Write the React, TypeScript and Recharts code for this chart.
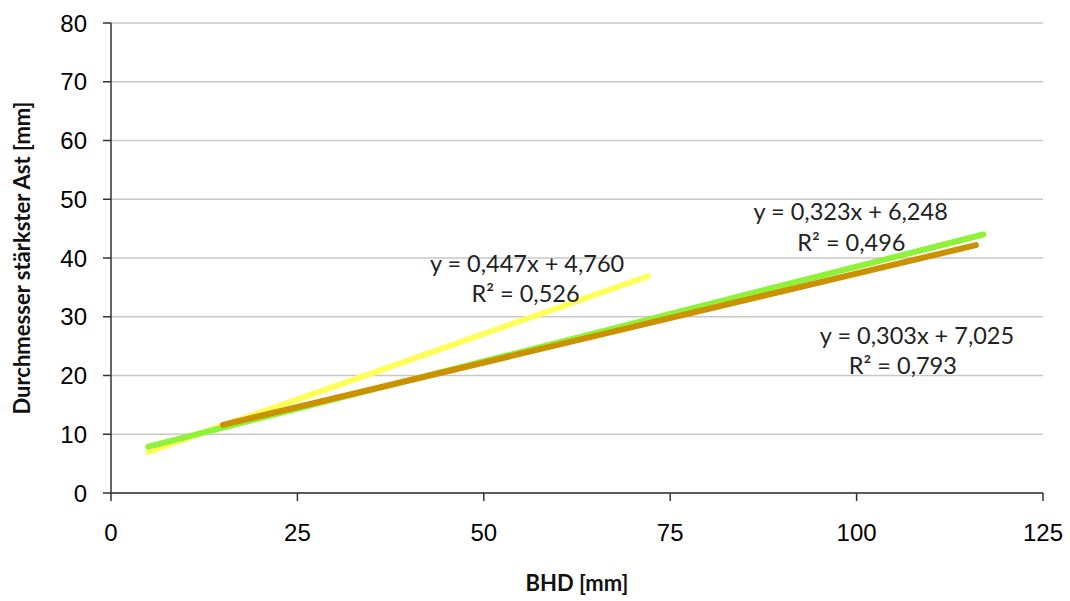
import React from "react";
import {
  LineChart,
  Line,
  XAxis,
  YAxis,
  CartesianGrid,
  Label,
  ReferenceDot,
} from "recharts";

// endpoints of the three trend lines
const yellowLine = [
  { x: 5, y: 7.0 },
  { x: 72, y: 36.9 },
];
const greenLine = [
  { x: 5, y: 7.9 },
  { x: 117, y: 44.0 },
];
const brownLine = [
  { x: 15, y: 11.6 },
  { x: 116, y: 42.2 },
];

const xTicks = [0, 25, 50, 75, 100, 125];
const yTicks = [0, 10, 20, 30, 40, 50, 60, 70, 80];

// equation labels: [x, y, text]
const annotations: [number, number, string][] = [
  [55.8, 39.1, "y = 0,447x + 4,760"],
  [55.6, 34.0, "R² = 0,526"],
  [99.2, 48.0, "y = 0,323x + 6,248"],
  [99.3, 42.7, "R² = 0,496"],
  [108.1, 26.9, "y = 0,303x + 7,025"],
  [106.2, 21.8, "R² = 0,793"],
];

const tickStyle = { fontFamily: "Liberation Sans, Arial", fontSize: 24, fill: "#000" };
const titleFont = "Lato, Open Sans, sans-serif";

const EqLabel = (props: any) => {
  const { viewBox, value } = props;
  const cx = viewBox.x + viewBox.width / 2;
  const cy = viewBox.y + viewBox.height / 2;
  return (
    <text
      x={cx}
      y={cy}
      textAnchor="middle"
      dominantBaseline="central"
      fontFamily={titleFont}
      fontSize={23.5}
      fill="#222"
    >
      {value}
    </text>
  );
};

export default function App() {
  return (
    <div style={{ position: "absolute", left: 0, top: 0, background: "#fff" }}>
      <LineChart
        width={1070}
        height={601}
        margin={{ top: 23, right: 27, left: 0, bottom: 0 }}
      >
        <CartesianGrid vertical={false} stroke="#c8c8c8" strokeWidth={1.5} />
        <XAxis
          type="number"
          dataKey="x"
          domain={[0, 125]}
          ticks={xTicks}
          tick={tickStyle}
          tickSize={8}
          tickMargin={23}
          stroke="#333"
          strokeWidth={1.5}
          height={108}
          allowDataOverflow
        >
          <Label
            value="BHD [mm]"
            position="insideBottom"
            offset={10}
            style={{ fontFamily: titleFont, fontWeight: 700, fontSize: 22, fill: "#111" }}
          />
        </XAxis>
        <YAxis
          type="number"
          domain={[0, 80]}
          ticks={yTicks}
          tick={tickStyle}
          tickSize={8}
          tickMargin={16}
          stroke="#333"
          strokeWidth={1.5}
          width={111}
          allowDataOverflow
        >
          <Label
            value="Durchmesser stärkster Ast [mm]"
            angle={-90}
            position="insideLeft"
            offset={22}
            style={{
              fontFamily: titleFont,
              fontWeight: 700,
              fontSize: 22,
              fill: "#111",
              textAnchor: "middle",
            }}
          />
        </YAxis>
        <Line
          data={yellowLine}
          dataKey="y"
          stroke="#FFFF5A"
          strokeWidth={6}
          strokeLinecap="round"
          dot={false}
          isAnimationActive={false}
        />
        <Line
          data={greenLine}
          dataKey="y"
          stroke="#8FF23A"
          strokeWidth={6}
          strokeLinecap="round"
          dot={false}
          isAnimationActive={false}
        />
        <Line
          data={brownLine}
          dataKey="y"
          stroke="#CC9100"
          strokeWidth={6}
          strokeLinecap="round"
          dot={false}
          isAnimationActive={false}
        />
        {annotations.map(([x, y, text]) => (
          <ReferenceDot
            key={text}
            x={x}
            y={y}
            r={0}
            fill="none"
            stroke="none"
            label={<EqLabel value={text} />}
          />
        ))}
      </LineChart>
    </div>
  );
}
